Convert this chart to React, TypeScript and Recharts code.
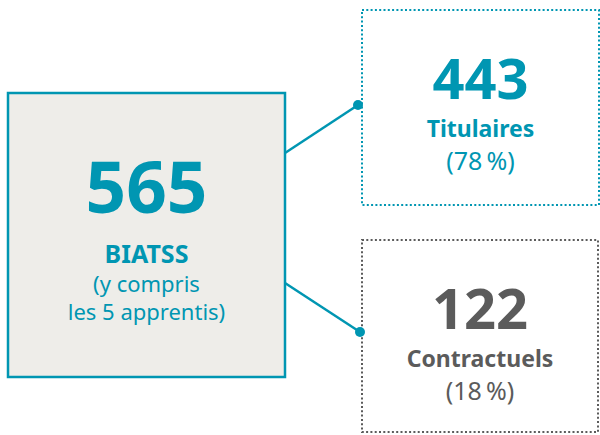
import { ComposedChart, XAxis, YAxis, ReferenceArea, ReferenceLine, ReferenceDot } from 'recharts';

// staff breakdown
const categories = ['BIATSS', 'Titulaires', 'Contractuels'];
const counts = [565, 443, 122];
const shares = [null, 78, 18];
const totalNote = ['(y compris', 'les 5 apprentis)'];

const TEAL = '#0096b2';
const GREY = '#5b5b5b';
const FONT = '"Noto Sans", sans-serif';

// layout of the boxes (pixels, same as axis units)
const layout = {
  main: { x1: 8, x2: 285, y1: 93, y2: 377 },
  top: { x1: 362, x2: 599, y1: 10, y2: 205 },
  bottom: { x1: 362, x2: 598, y1: 240, y2: 432 },
};

const links = [
  { from: { x: 285, y: 153 }, to: { x: 358, y: 105 } },
  { from: { x: 285, y: 283 }, to: { x: 360, y: 332 } },
];

const MainText = (props: any) => {
  const { x, y, width } = props.viewBox;
  const cx = x + width / 2;
  return (
    <g fontFamily={FONT} fill={TEAL} textAnchor="middle">
      <text x={cx} y={y + 120} fontSize={71} fontWeight={700}>{counts[0]}</text>
      <text x={cx} y={y + 170} fontSize={25} fontWeight={700}>{categories[0]}</text>
      <text x={cx} y={y + 199} fontSize={22}>{totalNote[0]}</text>
      <text x={cx} y={y + 227} fontSize={22}>{totalNote[1]}</text>
    </g>
  );
};

const sideText = (i: number, color: string) => (props: any) => {
  const { x, y, width } = props.viewBox;
  const cx = x + width / 2;
  return (
    <g fontFamily={FONT} fill={color} textAnchor="middle">
      <text x={cx} y={y + 89} fontSize={56} fontWeight={700}>{counts[i]}</text>
      <text x={cx} y={y + 127} fontSize={23} fontWeight={700}>{categories[i]}</text>
      <text x={cx} y={y + 160} fontSize={25}>({shares[i]}{'\u202f'}%)</text>
    </g>
  );
};

export default function App() {
  return (
    <div style={{ position: 'absolute', left: 0, top: 0, background: '#fff' }}>
      <ComposedChart width={600} height={435} data={[]} margin={{ top: 0, right: 0, bottom: 0, left: 0 }}>
        <XAxis type="number" dataKey="x" domain={[0, 600]} hide allowDataOverflow />
        <YAxis type="number" dataKey="y" domain={[0, 435]} reversed hide allowDataOverflow />

        {links.map((l, i) => (
          <ReferenceLine key={'l' + i} segment={[l.from, l.to]} stroke={TEAL} strokeWidth={2.5} />
        ))}

        <ReferenceArea
          {...layout.main}
          fill="#eeede9"
          fillOpacity={1}
          stroke={TEAL}
          strokeWidth={2.5}
          label={MainText}
        />
        <ReferenceArea
          {...layout.top}
          fill="#ffffff"
          fillOpacity={1}
          stroke={TEAL}
          strokeWidth={2}
          strokeDasharray="2 2.3"
          label={sideText(1, TEAL)}
        />
        <ReferenceArea
          {...layout.bottom}
          fill="#ffffff"
          fillOpacity={1}
          stroke={GREY}
          strokeWidth={2}
          strokeDasharray="2 2.3"
          label={sideText(2, GREY)}
        />

        {links.map((l, i) => (
          <ReferenceDot key={'d' + i} x={l.to.x} y={l.to.y} r={5} fill={TEAL} stroke="none" />
        ))}
      </ComposedChart>
    </div>
  );
}
